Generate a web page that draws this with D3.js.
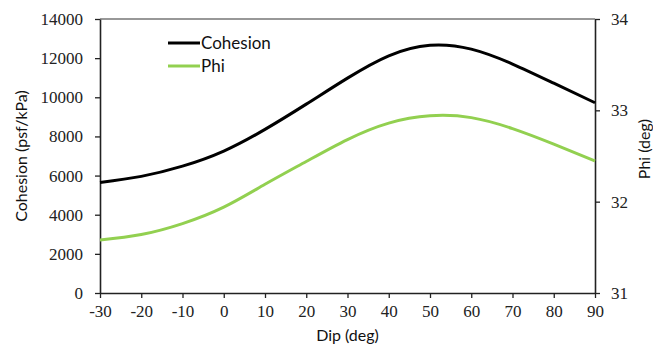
<!DOCTYPE html>
<html>
<head>
<meta charset="utf-8">
<script src="https://cdn.jsdelivr.net/npm/d3@7"></script>
<style>
  html, body { margin: 0; padding: 0; background: #fff; }
  svg { display: block; }
  .tick text { font-family: "Liberation Serif", serif; font-size: 17px; fill: #222; }
  .title { font-family: Lato, "Open Sans", sans-serif; font-size: 16px; fill: #111; }
  .legend { font-family: Lato, "Open Sans", sans-serif; font-size: 17px; fill: #111; }
</style>
</head>
<body>
<svg id="chart" width="653" height="349"></svg>
<script>
// Dip angle (deg) sampled along the fitted curves
const dips = [-30, -20, -10, 0, 10, 20, 30, 40, 50, 60, 70, 80, 90];
// Cohesion (psf/kPa) on the left axis
const cohesion = [5650, 5960, 6480, 7250, 8360, 9650, 10980, 12120, 12660, 12460, 11700, 10720, 9720];
// Friction angle Phi (deg) on the right axis
const phi = [31.58, 31.64, 31.76, 31.94, 32.19, 32.44, 32.68, 32.86, 32.94, 32.92, 32.80, 32.63, 32.445];

const xTicks = [-30, -20, -10, 0, 10, 20, 30, 40, 50, 60, 70, 80, 90];
const yLeftTicks = [0, 2000, 4000, 6000, 8000, 10000, 12000, 14000];
const yRightTicks = [31, 32, 33, 34];

const margin = { left: 100, right: 58, top: 19, bottom: 56 };
const W = 653, H = 349;
const svg = d3.select("#chart");

const x = d3.scaleLinear().domain([-30, 90]).range([margin.left, W - margin.right]);
const yL = d3.scaleLinear().domain([0, 14000]).range([H - margin.bottom, margin.top]);
const yR = d3.scaleLinear().domain([31, 34]).range([H - margin.bottom, margin.top]);

const plain = d => String(d);

// Top frame line of the plot area
svg.append("line")
  .attr("x1", x(-30)).attr("x2", x(90))
  .attr("y1", yL(14000)).attr("y2", yL(14000))
  .attr("stroke", "#333").attr("stroke-width", 1.2);

function styleAxis(g) {
  g.select(".domain").attr("stroke", "#222").attr("stroke-width", 1.6);
  g.selectAll(".tick line").attr("stroke", "#222").attr("stroke-width", 1.3);
}

svg.append("g")
  .attr("transform", `translate(0,${yL(0)})`)
  .call(d3.axisBottom(x).tickValues(xTicks).tickSize(5).tickSizeOuter(0).tickPadding(7).tickFormat(plain))
  .call(styleAxis);

svg.append("g")
  .attr("transform", `translate(${x(-30)},0)`)
  .call(d3.axisLeft(yL).tickValues(yLeftTicks).tickSize(5).tickSizeOuter(0).tickPadding(12).tickFormat(plain))
  .call(styleAxis);

svg.append("g")
  .attr("transform", `translate(${x(90)},0)`)
  .call(d3.axisRight(yR).tickValues(yRightTicks).tickSize(5).tickSizeOuter(0).tickPadding(11).tickFormat(plain))
  .call(styleAxis);

// Smooth spline curves through the sampled points
const cohLine = d3.line().x((d, i) => x(dips[i])).y(d => yL(d)).curve(d3.curveNatural);
const phiLine = d3.line().x((d, i) => x(dips[i])).y(d => yR(d)).curve(d3.curveNatural);

svg.append("path").datum(phi).attr("d", phiLine)
  .attr("fill", "none").attr("stroke", "#92d050").attr("stroke-width", 3);
svg.append("path").datum(cohesion).attr("d", cohLine)
  .attr("fill", "none").attr("stroke", "#000").attr("stroke-width", 3);

// Legend
const legend = [
  { name: "Cohesion", color: "#000", y: 43 },
  { name: "Phi", color: "#92d050", y: 66 }
];
legend.forEach(l => {
  svg.append("line").attr("x1", 168).attr("x2", 200).attr("y1", l.y).attr("y2", l.y)
    .attr("stroke", l.color).attr("stroke-width", 3);
  svg.append("text").attr("class", "legend").attr("x", 201).attr("y", l.y + 6).text(l.name);
});

// Axis titles
svg.append("text").attr("class", "title")
  .attr("x", x(30)).attr("y", 341).attr("text-anchor", "middle").text("Dip (deg)");
svg.append("text").attr("class", "title")
  .attr("transform", `translate(27,${(yL(0) + yL(14000)) / 2}) rotate(-90)`)
  .attr("text-anchor", "middle").text("Cohesion (psf/kPa)");
svg.append("text").attr("class", "title")
  .attr("transform", `translate(650,149) rotate(-90)`)
  .attr("text-anchor", "middle").text("Phi (deg)");
</script>
</body>
</html>
